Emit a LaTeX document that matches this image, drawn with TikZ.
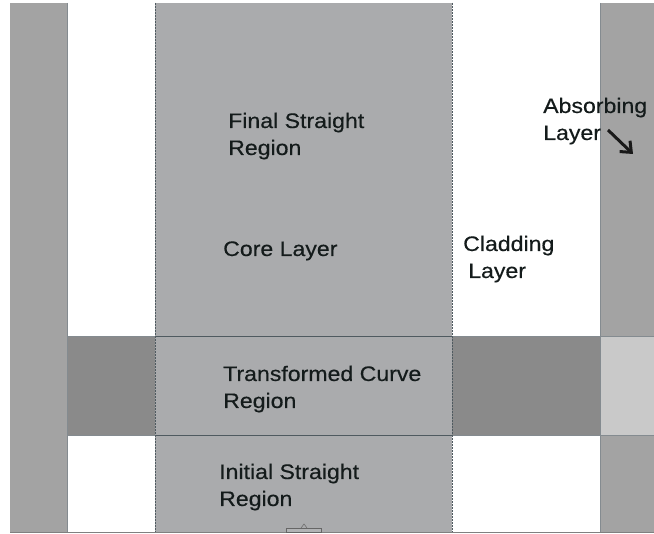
\documentclass[tikz,border=0pt]{standalone}
\usepackage{fontspec}
\newfontfamily\lbl[FakeStretch=1.1,FakeBold=0.4]{Liberation Sans}
\usetikzlibrary{arrows.meta}
\definecolor{absorb}{HTML}{A3A3A3}
\definecolor{corec}{HTML}{AAABAD}
\definecolor{bandd}{HTML}{8A8A8A}
\definecolor{bandl}{HTML}{C9C9C9}
\definecolor{edgec}{HTML}{4F5A60}
\definecolor{txt}{HTML}{141B1B}
\tikzset{
  lab/.style={font={\lbl\fontsize{21}{27}\selectfont}, text=txt, align=left, anchor=base west, inner sep=0pt},
  coreedge/.style={draw=edgec, line width=0.9pt, dash pattern=on 2pt off 1pt},
  thinedge/.style={draw=edgec!70, line width=0.5pt},
}
\begin{document}
\begin{tikzpicture}[x=1pt,y=-1pt]
\useasboundingbox (0,0) rectangle (654,534);
\fill[white] (0,0) rectangle (654,534);
% regions
\fill[absorb] (10,3) rectangle (67,532);
\fill[absorb] (600,3) rectangle (654,532);
\fill[corec] (155,3) rectangle (452,532);
\fill[bandd] (67,336) rectangle (155,435);
\fill[bandd] (452,336) rectangle (600,435);
\fill[bandl] (600,336) rectangle (654,435);
% edges
\draw[thinedge] (67,3) -- (67,532);
\draw[thinedge] (600,3) -- (600,532);
\draw[thinedge] (67,336) -- (654,336);
\draw[thinedge] (67,435) -- (654,435);
\draw[draw=edgec, line width=0.8pt] (155,336) -- (452,336);
\draw[draw=edgec, line width=0.8pt] (155,435) -- (452,435);
\draw[coreedge] (155,3) -- (155,532);
\draw[coreedge] (452,3) -- (452,532);
\draw[draw=gray, line width=0.8pt] (10,532) -- (654,532);
% small mark at bottom
\draw[draw=gray!80!black, line width=0.5pt, fill=corec!90!white] (286,528) rectangle (321,532);
\draw[draw=gray!80!black, line width=0.5pt] (301,528) -- (304,524) -- (307,528);
% labels (base = baseline of last line)
\node[lab] (fsr) at (228,155) {Final Straight\\Region};
\node[lab] (core) at (223,256) {Core Layer};
\node[lab] (clad) at (463,278) {Cladding\\\hspace{5pt}Layer};
\node[lab] (abs) at (543,140) {Absorbing\\Layer};
\node[lab] (tcr) at (223,408) {Transformed Curve\\Region};
\node[lab] (isr) at (219,506) {Initial Straight\\Region};
% arrow
\coordinate (arrs) at (608,130);
\coordinate (arre) at (633,154);
\draw[line width=3pt, black!90, -{Straight Barb[length=9pt,width=15pt]}] (arrs) -- (arre);
\end{tikzpicture}
\end{document}
